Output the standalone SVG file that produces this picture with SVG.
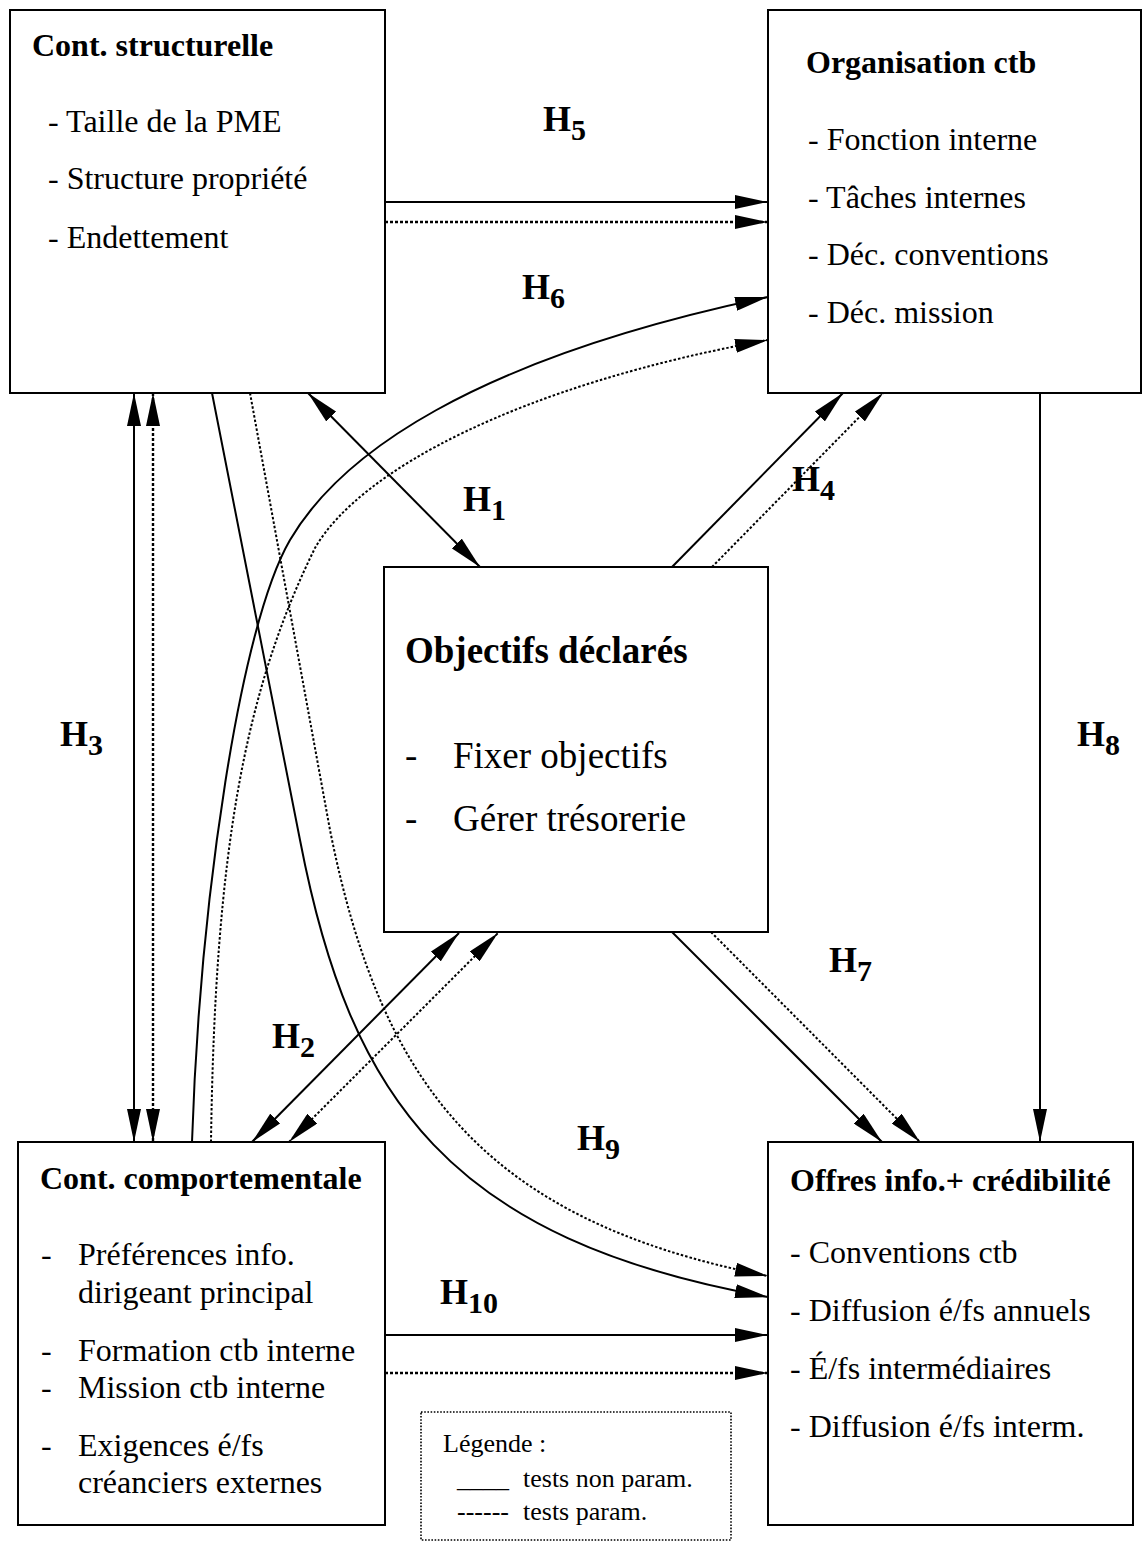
<svg xmlns="http://www.w3.org/2000/svg" width="1147" height="1542" viewBox="0 0 1147 1542">
<style>
.box{fill:#fff;stroke:#000;stroke-width:2}
.t{font-family:"Liberation Serif","Times New Roman",serif;fill:#000}
.title{font-size:32px;font-weight:bold}
.item{font-size:32px}
.big{font-size:37px}
.h{font-family:"Liberation Serif","Times New Roman",serif;font-size:36px;font-weight:bold;fill:#000}
.sub{font-size:30px}
.s{fill:none;stroke:#000;stroke-width:2}
.d{fill:none;stroke:#000;stroke-width:2.4;stroke-dasharray:3,2}
.dc{fill:none;stroke:#000;stroke-width:2;stroke-dasharray:2.5,2}
.leg{fill:#fff;stroke:#000;stroke-width:1.6;stroke-dasharray:1.6,1.6}
.lt{font-family:"Liberation Serif","Times New Roman",serif;font-size:26px;fill:#000}
</style>
<defs>
<marker id="ah" viewBox="0 0 33 14" refX="33" refY="7" markerWidth="33" markerHeight="14" markerUnits="userSpaceOnUse" orient="auto-start-reverse">
<path d="M0,0 L33,7 L0,14 z" fill="#000" stroke="none"/>
</marker>
</defs>
<rect width="1147" height="1542" fill="#fff"/>

<g id="connectors">
<!-- H5 -->
<path class="s" d="M385,202 L768,202" marker-end="url(#ah)"/>
<path class="d" d="M385,222 L768,222" marker-end="url(#ah)"/>
<!-- H3 -->
<path class="s" d="M134,393 L134,1142" marker-start="url(#ah)" marker-end="url(#ah)"/>
<path class="d" d="M153,393 L153,1142" marker-start="url(#ah)" marker-end="url(#ah)"/>
<!-- H1 -->
<path class="s" d="M308,393 L480,567" marker-start="url(#ah)" marker-end="url(#ah)"/>
<!-- H4 -->
<path class="s" d="M672,567 L843,393" marker-end="url(#ah)"/>
<path class="dc" d="M712,567 L883,393" marker-end="url(#ah)"/>
<!-- H2 -->
<path class="s" d="M252,1142 L459,933" marker-start="url(#ah)" marker-end="url(#ah)"/>
<path class="dc" d="M289,1142 L498,933" marker-start="url(#ah)" marker-end="url(#ah)"/>
<!-- H7 -->
<path class="s" d="M672,932 L882,1142" marker-end="url(#ah)"/>
<path class="dc" d="M711,932 L920,1142" marker-end="url(#ah)"/>
<!-- H8 -->
<path class="s" d="M1040,393 L1040,1142" marker-end="url(#ah)"/>
<!-- H10 -->
<path class="s" d="M385,1335 L768,1335" marker-end="url(#ah)"/>
<path class="d" d="M385,1373 L768,1373" marker-end="url(#ah)"/>
<!-- H6 -->
<path class="s" d="M192,1142 C200,900 240,626 290,540 C340,455 470,360 768,297" marker-end="url(#ah)"/>
<path class="dc" d="M211,1142 C215,850 245,690 315,548 C360,470 520,385 768,340" marker-end="url(#ah)"/>
<!-- H9 -->
<path class="s" d="M212,393 L300,840 C350,1100 450,1240 768,1297" marker-end="url(#ah)"/>
<path class="dc" d="M250,393 L330,830 C380,1080 480,1220 768,1276" marker-end="url(#ah)"/>
</g>

<g id="cont-structurelle">
<rect class="box" x="10" y="10" width="375" height="383"/>
<text class="t title" x="32" y="56">Cont. structurelle</text>
<text class="t item" x="48" y="132">- Taille de la PME</text>
<text class="t item" x="48" y="189">- Structure propriété</text>
<text class="t item" x="48" y="248">- Endettement</text>
</g>

<g id="organisation-ctb">
<rect class="box" x="768" y="10" width="373" height="383"/>
<text class="t title" x="806" y="73">Organisation ctb</text>
<text class="t item" x="808" y="150">- Fonction interne</text>
<text class="t item" x="808" y="208">- Tâches internes</text>
<text class="t item" x="808" y="265">- Déc. conventions</text>
<text class="t item" x="808" y="323">- Déc. mission</text>
</g>

<g id="objectifs-declares">
<rect class="box" x="384" y="567" width="384" height="365"/>
<text class="t big" x="405" y="663" font-weight="bold">Objectifs déclarés</text>
<text class="t big" x="405" y="768">-</text>
<text class="t big" x="453" y="768">Fixer objectifs</text>
<text class="t big" x="405" y="831">-</text>
<text class="t big" x="453" y="831">Gérer trésorerie</text>
</g>

<g id="cont-comportementale">
<rect class="box" x="18" y="1142" width="367" height="383"/>
<text class="t title" x="40" y="1189">Cont. comportementale</text>
<text class="t item" x="41" y="1265">-</text>
<text class="t item" x="78" y="1265">Préférences info.</text>
<text class="t item" x="78" y="1303">dirigeant principal</text>
<text class="t item" x="41" y="1361">-</text>
<text class="t item" x="78" y="1361">Formation ctb interne</text>
<text class="t item" x="41" y="1398">-</text>
<text class="t item" x="78" y="1398">Mission ctb interne</text>
<text class="t item" x="41" y="1456">-</text>
<text class="t item" x="78" y="1456">Exigences é/fs</text>
<text class="t item" x="78" y="1493">créanciers externes</text>
</g>

<g id="offres-info">
<rect class="box" x="768" y="1142" width="365" height="383"/>
<text class="t title" x="790" y="1191">Offres info.+ crédibilité</text>
<text class="t item" x="790" y="1263">- Conventions ctb</text>
<text class="t item" x="790" y="1321">- Diffusion é/fs annuels</text>
<text class="t item" x="790" y="1379">- É/fs intermédiaires</text>
<text class="t item" x="790" y="1437">- Diffusion é/fs interm.</text>
</g>

<g id="legende">
<rect class="leg" x="421" y="1412" width="310" height="128"/>
<text class="lt" x="443" y="1452">Légende :</text>
<text class="lt" x="457" y="1487">____</text>
<text class="lt" x="523" y="1487">tests non param.</text>
<text class="lt" x="457" y="1520">------</text>
<text class="lt" x="523" y="1520">tests param.</text>
</g>

<g id="labels">
<text class="h" x="543" y="131">H<tspan class="sub" dy="9">5</tspan></text>
<text class="h" x="522" y="299">H<tspan class="sub" dy="9">6</tspan></text>
<text class="h" x="463" y="511">H<tspan class="sub" dy="9">1</tspan></text>
<text class="h" x="792" y="491">H<tspan class="sub" dy="9">4</tspan></text>
<text class="h" x="60" y="746">H<tspan class="sub" dy="9">3</tspan></text>
<text class="h" x="1077" y="746">H<tspan class="sub" dy="9">8</tspan></text>
<text class="h" x="829" y="972">H<tspan class="sub" dy="9">7</tspan></text>
<text class="h" x="272" y="1048">H<tspan class="sub" dy="9">2</tspan></text>
<text class="h" x="577" y="1150">H<tspan class="sub" dy="9">9</tspan></text>
<text class="h" x="440" y="1304">H<tspan class="sub" dy="9">10</tspan></text>
</g>
</svg>
